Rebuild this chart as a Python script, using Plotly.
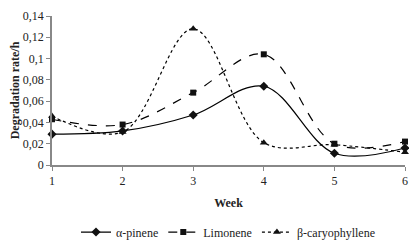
import plotly.graph_objects as go

weeks = [1, 2, 3, 4, 5, 6]
alpha_pinene = [0.029, 0.032, 0.047, 0.074, 0.011, 0.016]
limonene = [0.043, 0.038, 0.068, 0.104, 0.020, 0.022]
caryophyllene = [0.046, 0.031, 0.128, 0.021, 0.019, 0.012]

y_ticks = [0, 0.02, 0.04, 0.06, 0.08, 0.1, 0.12, 0.14]

font_family = "Liberation Serif"

fig = go.Figure()
series = [
    ("α-pinene", alpha_pinene, "solid", "diamond", 7),
    ("Limonene", limonene, "dash", "square", 6),
    ("β-caryophyllene", caryophyllene, "dot", "triangle-up", 7),
]
for name, vals, dash, sym, size in series:
    fig.add_trace(go.Scatter(
        x=weeks, y=vals, name=name, mode="lines+markers",
        line=dict(color="black", width=1.2, dash=dash, shape="spline", smoothing=1),
        marker=dict(symbol=sym, size=size, color="#111111"),
        cliponaxis=False,
    ))

# page body has an 8px margin: figure sits at (8, 8)
fig.update_layout(
    width=409, height=242,
    margin=dict(l=44, r=12, t=8, b=85, autoexpand=False),
    paper_bgcolor="white", plot_bgcolor="white",
    separators=", ",
    font=dict(family=font_family, size=12, color="#222222"),
    showlegend=True,
    legend=dict(orientation="h", x=0.5, xanchor="center", y=-0.45, yanchor="middle",
                font=dict(size=12, family=font_family), tracegroupgap=0),
    xaxis=dict(
        range=[1, 6], tickvals=weeks, ticks="outside", ticklen=4, tickcolor="#888888",
        showline=True, linecolor="#888888", linewidth=1.5, showgrid=False, zeroline=False,
        tickfont=dict(size=12), automargin=False,
        title=dict(text="<b>Week</b>", font=dict(size=12), standoff=11),
    ),
    yaxis=dict(
        range=[0, 0.14], tickvals=y_ticks, ticks="outside", ticklen=4, tickcolor="#888888",
        showline=True, linecolor="#888888", linewidth=1.5, showgrid=False, zeroline=False,
        tickfont=dict(size=12), automargin=False,
        title=dict(text="<b>Degradation rate/h</b>", font=dict(size=12), standoff=4),
    ),
)

fig.write_html("out.html")
